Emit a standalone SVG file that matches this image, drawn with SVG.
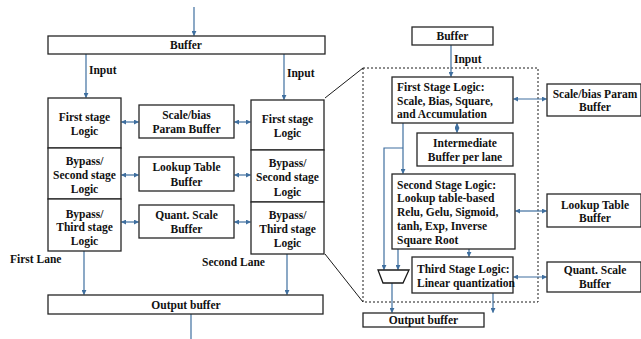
<svg xmlns="http://www.w3.org/2000/svg" width="641" height="339" viewBox="0 0 641 339">
  <style>
    .box { fill: #ffffff; stroke: #262626; stroke-width: 1.3; }
    .t { font-family: "Liberation Serif", "Times New Roman", serif; font-weight: bold; font-size: 11.5px; fill: #111111; }
    .c { text-anchor: middle; }
    .w { stroke: #3f6f9f; stroke-width: 1.2; fill: none; }
    .ln { stroke: #1a1a1a; stroke-width: 1; fill: none; }
  </style>
  <defs>
    <marker id="ah" viewBox="0 0 6 6" refX="5.5" refY="3" markerWidth="5" markerHeight="5" markerUnits="userSpaceOnUse" orient="auto-start-reverse">
      <path d="M0,0 L6,3 L0,6 Z" fill="#3f6f9f"/>
    </marker>
  </defs>
  <rect width="641" height="339" fill="#ffffff"/>

  <!-- zoom guide lines and dashed detail frame -->
  <g id="detail-frame">
    <line class="ln" x1="325" y1="98" x2="363" y2="68"/>
    <line class="ln" x1="325" y1="254" x2="363" y2="302"/>
    <rect x="363" y="68" width="175" height="234" fill="none" stroke="#1a1a1a" stroke-width="1" stroke-dasharray="2,2"/>
  </g>

  <g id="connectors">
    <!-- left architecture -->
    <line class="w" x1="194" y1="7" x2="194" y2="35.5" marker-end="url(#ah)"/>
    <line class="w" x1="86" y1="54" x2="86" y2="97.5" marker-end="url(#ah)"/>
    <line class="w" x1="284" y1="54" x2="284" y2="99.5" marker-end="url(#ah)"/>
    <line class="w" x1="121.5" y1="122" x2="138.5" y2="122" marker-start="url(#ah)" marker-end="url(#ah)"/>
    <line class="w" x1="234.5" y1="122" x2="250.5" y2="122" marker-start="url(#ah)" marker-end="url(#ah)"/>
    <line class="w" x1="121.5" y1="175" x2="138.5" y2="175" marker-start="url(#ah)" marker-end="url(#ah)"/>
    <line class="w" x1="234.5" y1="175" x2="250.5" y2="175" marker-start="url(#ah)" marker-end="url(#ah)"/>
    <line class="w" x1="121.5" y1="222" x2="138.5" y2="222" marker-start="url(#ah)" marker-end="url(#ah)"/>
    <line class="w" x1="234.5" y1="222" x2="250.5" y2="222" marker-start="url(#ah)" marker-end="url(#ah)"/>
    <line class="w" x1="84" y1="251" x2="84" y2="294.5" marker-end="url(#ah)"/>
    <line class="w" x1="287" y1="254" x2="287" y2="294.5" marker-end="url(#ah)"/>
    <line class="w" x1="191" y1="314" x2="191" y2="339"/>
    <!-- detailed lane -->
    <line class="w" x1="451" y1="45" x2="451" y2="76.5" marker-end="url(#ah)"/>
    <line class="w" x1="513.5" y1="99" x2="546.5" y2="99" marker-start="url(#ah)" marker-end="url(#ah)"/>
    <line class="w" x1="457" y1="123.5" x2="457" y2="132.5" marker-start="url(#ah)" marker-end="url(#ah)"/>
    <line class="w" x1="403" y1="123" x2="403" y2="173.5" marker-end="url(#ah)"/>
    <polyline class="w" points="403,148 384,148 384,269.5" marker-end="url(#ah)"/>
    <line class="w" x1="398" y1="249" x2="398" y2="269.5" marker-end="url(#ah)"/>
    <line class="w" x1="469" y1="249" x2="469" y2="256.5" marker-end="url(#ah)"/>
    <line class="w" x1="515.5" y1="211" x2="546.5" y2="211" marker-start="url(#ah)" marker-end="url(#ah)"/>
    <line class="w" x1="513.5" y1="277" x2="546.5" y2="277" marker-start="url(#ah)" marker-end="url(#ah)"/>
    <line class="w" x1="392" y1="283" x2="392" y2="312.5" marker-end="url(#ah)"/>
    <line class="w" x1="493" y1="293" x2="493" y2="312.5" marker-end="url(#ah)"/>
  </g>

  <!-- left architecture -->
  <g id="buffer">
    <rect class="box" x="48" y="36" width="277" height="18"/>
    <text class="t c" x="186" y="49">Buffer</text>
  </g>
  <text class="t" x="89" y="74">Input</text>
  <text class="t" x="287" y="77">Input</text>

  <g id="lane1">
    <rect class="box" x="48" y="98" width="73" height="50"/>
    <text class="t c" x="84.5" y="121">First stage</text>
    <text class="t c" x="84.5" y="135">Logic</text>
    <rect class="box" x="48" y="148" width="73" height="51"/>
    <text class="t c" x="84.5" y="165">Bypass/</text>
    <text class="t c" x="84.5" y="179">Second stage</text>
    <text class="t c" x="84.5" y="193">Logic</text>
    <rect class="box" x="48" y="199" width="73" height="52"/>
    <text class="t c" x="84.5" y="218">Bypass/</text>
    <text class="t c" x="84.5" y="231">Third stage</text>
    <text class="t c" x="84.5" y="245">Logic</text>
  </g>

  <g id="scale-bias-buffer">
    <rect class="box" x="139" y="105" width="95" height="33"/>
    <text class="t c" x="186.5" y="119">Scale/bias</text>
    <text class="t c" x="186.5" y="133">Param Buffer</text>
  </g>
  <g id="lookup-buffer">
    <rect class="box" x="139" y="157" width="95" height="34"/>
    <text class="t c" x="186.5" y="171">Lookup Table</text>
    <text class="t c" x="186.5" y="186">Buffer</text>
  </g>
  <g id="quant-buffer">
    <rect class="box" x="139" y="205" width="95" height="33"/>
    <text class="t c" x="186.5" y="219">Quant. Scale</text>
    <text class="t c" x="186.5" y="233">Buffer</text>
  </g>

  <g id="lane2">
    <rect class="box" x="251" y="100" width="73" height="50"/>
    <text class="t c" x="287.5" y="123">First stage</text>
    <text class="t c" x="287.5" y="137">Logic</text>
    <rect class="box" x="251" y="150" width="73" height="52"/>
    <text class="t c" x="287.5" y="167">Bypass/</text>
    <text class="t c" x="287.5" y="181">Second stage</text>
    <text class="t c" x="287.5" y="196">Logic</text>
    <rect class="box" x="251" y="202" width="73" height="52"/>
    <text class="t c" x="287.5" y="219">Bypass/</text>
    <text class="t c" x="287.5" y="233">Third stage</text>
    <text class="t c" x="287.5" y="247">Logic</text>
  </g>

  <text class="t" x="10" y="263">First Lane</text>
  <text class="t" x="202" y="266">Second Lane</text>

  <g id="output-buffer">
    <rect class="box" x="48" y="295" width="275" height="19"/>
    <text class="t c" x="186" y="309">Output buffer</text>
  </g>

  <!-- detailed lane -->
  <g id="lane-buffer">
    <rect class="box" x="412" y="27" width="81" height="18"/>
    <text class="t c" x="452.5" y="40">Buffer</text>
  </g>
  <text class="t" x="454" y="63">Input</text>

  <g id="first-stage">
    <rect class="box" x="392" y="77" width="121" height="46"/>
    <text class="t" x="397" y="91">First Stage Logic:</text>
    <text class="t" x="397" y="105">Scale, Bias, Square,</text>
    <text class="t" x="397" y="118">and Accumulation</text>
  </g>
  <g id="scale-bias-param-buffer">
    <rect class="box" x="547" y="84" width="94" height="32"/>
    <text class="t c" x="595" y="98">Scale/bias Param</text>
    <text class="t c" x="595" y="111">Buffer</text>
  </g>
  <g id="intermediate-buffer">
    <rect class="box" x="417" y="133" width="96" height="33"/>
    <text class="t c" x="465" y="147">Intermediate</text>
    <text class="t c" x="465" y="161">Buffer per lane</text>
  </g>
  <g id="second-stage">
    <rect class="box" x="392" y="174" width="123" height="75"/>
    <text class="t" x="397" y="189">Second Stage Logic:</text>
    <text class="t" x="397" y="202">Lookup table-based</text>
    <text class="t" x="397" y="216">Relu, Gelu, Sigmoid,</text>
    <text class="t" x="397" y="230">tanh, Exp, Inverse</text>
    <text class="t" x="397" y="244">Square Root</text>
  </g>
  <g id="lookup-table-buffer">
    <rect class="box" x="547" y="194" width="94" height="33"/>
    <text class="t c" x="595" y="209">Lookup Table</text>
    <text class="t c" x="595" y="222">Buffer</text>
  </g>
  <g id="third-stage">
    <rect class="box" x="412" y="257" width="101" height="36"/>
    <text class="t" x="417" y="273">Third Stage Logic:</text>
    <text class="t" x="417" y="287">Linear quantization</text>
  </g>
  <g id="quant-scale-buffer">
    <rect class="box" x="547" y="262" width="94" height="30"/>
    <text class="t c" x="595" y="274">Quant. Scale</text>
    <text class="t c" x="595" y="288">Buffer</text>
  </g>
  <g id="mux">
    <polygon points="378,270 409,270 403,283 383,283" fill="#ffffff" stroke="#1a1a1a" stroke-width="1.3"/>
  </g>
  <g id="lane-output-buffer">
    <rect class="box" x="363" y="313" width="121" height="14"/>
    <text class="t c" x="423.5" y="324">Output buffer</text>
  </g>
</svg>
